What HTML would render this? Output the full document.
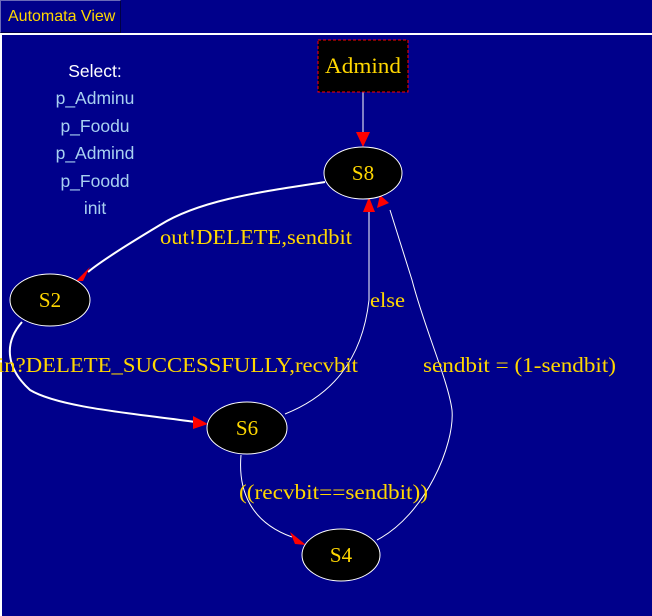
<!DOCTYPE html>
<html><head><meta charset="utf-8"><style>
html,body{margin:0;padding:0;width:652px;height:616px;overflow:hidden;background:#00008b;}
#tab{position:absolute;left:0;top:0;width:119px;height:31px;border:1px solid #6a6ab8;border-bottom-color:#000044;border-right-color:#000044;background:#00008b;color:#ffd700;font:16px "Liberation Sans",sans-serif;line-height:31px;text-indent:7px;}
#panel{position:absolute;left:0;top:33px;width:652px;height:583px;border-top:2px solid #fff;border-left:2px solid #fff;box-sizing:border-box;}
.sel{position:absolute;left:25px;width:140px;text-align:center;font:17.5px "Liberation Sans",sans-serif;color:#a8d0f0;}
</style></head><body>
<div id="tab">Automata View</div>
<div id="panel"></div>
<div class="sel" style="top:61px;color:#fff">Select:</div>
<div class="sel" style="top:88px">p_Adminu</div>
<div class="sel" style="top:116px">p_Foodu</div>
<div class="sel" style="top:143px">p_Admind</div>
<div class="sel" style="top:171px">p_Foodd</div>
<div class="sel" style="top:198px">init</div>
<svg width="652" height="616" style="position:absolute;left:0;top:0" font-family="Liberation Serif, serif" font-size="21">
<g fill="none" stroke="#fff">
<line x1="363" y1="92" x2="363" y2="135"/>
<path d="M325,182 C260,192 200,200 160,225 C125,246 100,262 88,272" stroke-width="2"/>
<path d="M22,322 C2,345 8,370 30,390 C60,408 140,414 195,422" stroke-width="2"/>
<path d="M285,414 C330,396 362,362 369,300 L369,212"/>
<path d="M377,540 C425,515 455,445 452,410 C448,380 425,330 412,280 L390,210"/>
<path d="M241,455 C238,490 250,522 292,537"/>
</g>
<g fill="#f00">
<polygon points="356,132 370,132 363,147"/>
<polygon points="76,281 90,267 83,281"/>
<polygon points="193,416 193,429 208,424"/>
<polygon points="363,212 375,212 369,197"/>
<polygon points="377,208 389,203 380,195"/>
<polygon points="290,532 295,544 306,545"/>
</g>
<rect x="318" y="40" width="90" height="52" fill="#000" stroke="#f00" stroke-dasharray="3,2"/>
<text x="363" y="73" fill="#ffd700" text-anchor="middle" font-size="22" textLength="76" lengthAdjust="spacingAndGlyphs">Admind</text>
<g fill="#000" stroke="#fff">
<ellipse cx="363" cy="173" rx="39" ry="26"/>
<ellipse cx="50" cy="300" rx="40" ry="26"/>
<ellipse cx="247" cy="428" rx="40" ry="26"/>
<ellipse cx="341" cy="555" rx="39" ry="26"/>
</g>
<g fill="#ffd700" text-anchor="middle">
<text x="363" y="180">S8</text><text x="50" y="307">S2</text>
<text x="247" y="435">S6</text><text x="341" y="562">S4</text>
</g>
<g fill="#ffd700">
<text x="160" y="244" textLength="192" lengthAdjust="spacingAndGlyphs">out!DELETE,sendbit</text>
<text x="370" y="307" textLength="35" lengthAdjust="spacingAndGlyphs">else</text>
<text x="-2" y="372" textLength="360" lengthAdjust="spacingAndGlyphs">in?DELETE_SUCCESSFULLY,recvbit</text>
<text x="423" y="372" textLength="193" lengthAdjust="spacingAndGlyphs">sendbit = (1-sendbit)</text>
<text x="239" y="499" textLength="189" lengthAdjust="spacingAndGlyphs">((recvbit==sendbit))</text>
</g>
</svg>
</body></html>
